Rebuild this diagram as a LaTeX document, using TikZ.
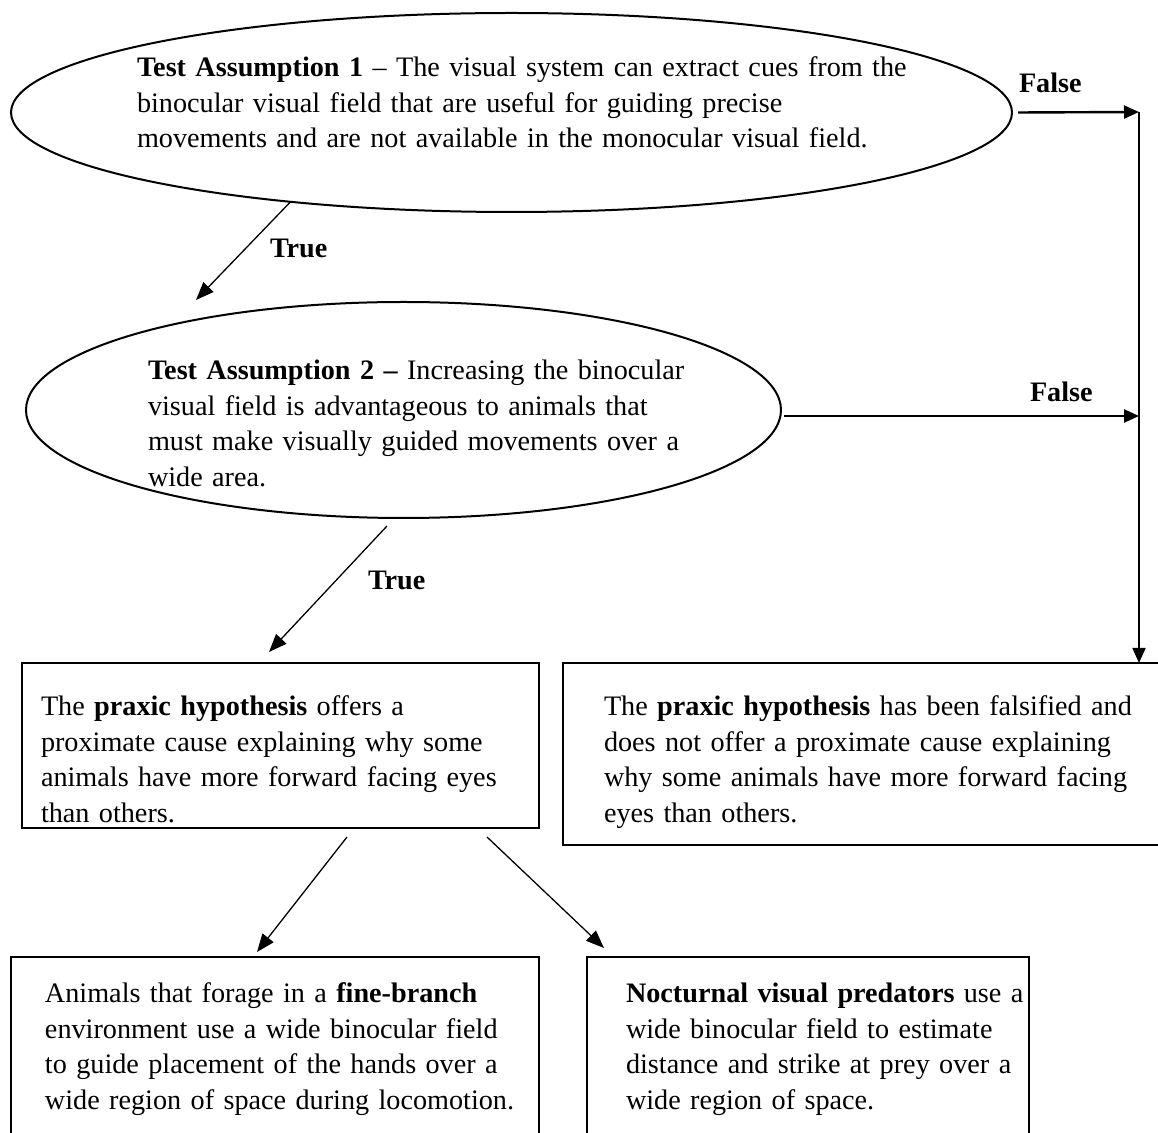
\documentclass[tikz,border=0pt]{standalone}
\usepackage{fontspec}
\setmainfont{Liberation Serif}
\usetikzlibrary{arrows.meta,shapes.geometric}
\newcommand{\dfs}{\fontsize{14.1pt}{17.75pt}\selectfont}
\begin{document}
\begin{tikzpicture}[x=0.5pt,y=-0.5pt,
  every node/.style={inner sep=0pt, outer sep=0pt},
  shapeline/.style={draw=black, line width=1pt},
  txt/.style={anchor=base west, align=left, font=\dfs},
  lbl/.style={anchor=base west, font=\dfs\bfseries},
  truearrow/.style={line width=0.65pt, -{Triangle[length=9pt,width=7pt]}},
  falsearrow/.style={line width=1.2pt, -{Triangle[length=7.5pt,width=6.5pt]}},
  vline/.style={line width=0.85pt, -{Triangle[length=7.5pt,width=6.5pt]}}]
\useasboundingbox (0,0) rectangle (1158,1133);

% shapes
\node[ellipse, shapeline, minimum width=500.5pt, minimum height=99.5pt] (e1) at (511.5,112.5) {};
\node[ellipse, shapeline, minimum width=377.5pt, minimum height=108pt] (e2) at (403.5,410) {};
\node[rectangle, shapeline, minimum width=258.5pt, minimum height=82.5pt, anchor=north west] (b3) at (22,663) {};
\node[rectangle, shapeline, minimum width=303.5pt, minimum height=91pt, anchor=north west] (b4) at (563,663) {};
\node[rectangle, shapeline, minimum width=264pt, minimum height=96.5pt, anchor=north west] (b5) at (11,957) {};
\node[rectangle, shapeline, minimum width=221pt, minimum height=96.5pt, anchor=north west] (b6) at (587,957) {};

% texts
\node[txt, text width=420pt] (t1) at (137,77) {\textbf{Test Assumption 1} – The visual system can extract cues from the\\ binocular visual field that are useful for guiding precise\\ movements and are not available in the monocular visual field.};
\node[txt, text width=300pt] (t2) at (148,380) {\textbf{Test Assumption 2 –} Increasing the binocular\\ visual field is advantageous to animals that\\ must make visually guided movements over a\\ wide area.};
\node[txt, text width=250pt] (t3) at (41,716) {The \textbf{praxic hypothesis} offers a\\ proximate cause explaining why some\\ animals have more forward facing eyes\\ than others.};
\node[txt, text width=290pt] (t4) at (604,716) {The \textbf{praxic hypothesis} has been falsified and\\ does not offer a proximate cause explaining\\ why some animals have more forward facing\\ eyes than others.};
\node[txt, text width=260pt] (t5) at (45,1003) {Animals that forage in a \textbf{fine-branch}\\ environment use a wide binocular field\\ to guide placement of the hands over a\\ wide region of space during locomotion.};
\node[txt, text width=220pt] (t6) at (626,1003) {\textbf{Nocturnal visual predators} use a\\ wide binocular field to estimate\\ distance and strike at prey over a\\ wide region of space.};

% labels
\node[lbl] (l1) at (270,258) {True};
\node[lbl] (l2) at (368,590) {True};
\node[lbl] (l3) at (1019,93) {False};
\node[lbl] (l4) at (1030,402) {False};

% connector points
\coordinate (a1e) at (196,300);
\coordinate (a2s) at (387,526);
\coordinate (a2e) at (269,652);
\coordinate (j1) at (1139,112);
\coordinate (j2) at (1139,663);
\coordinate (f2s) at (784,416);
\coordinate (f2e) at (1139,416);
\coordinate (a5s) at (347,837);
\coordinate (a5e) at (257,952);
\coordinate (a6s) at (487,837);
\coordinate (a6e) at (604,948);

% connectors
\draw[truearrow] (e1.202) -- (a1e);
\draw[truearrow] (a2s) -- (a2e);
\draw[falsearrow] ([xshift=3pt]e1.east) -- (j1);
\draw[vline] (j1) -- (j2);
\draw[falsearrow] (f2s) -- (f2e);
\draw[truearrow] (a5s) -- (a5e);
\draw[truearrow] (a6s) -- (a6e);
\end{tikzpicture}
\end{document}
